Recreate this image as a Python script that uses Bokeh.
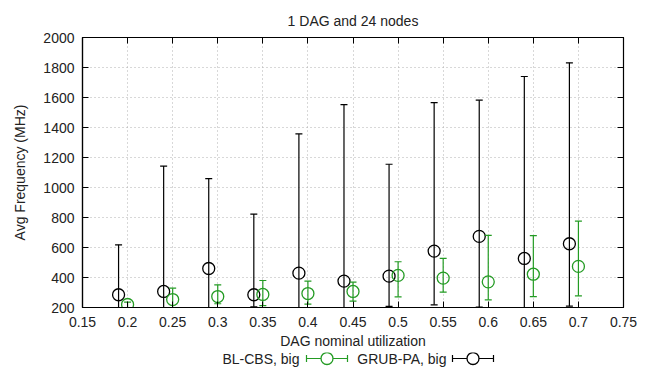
import math
from bokeh.plotting import figure
from bokeh.layouts import column
from bokeh.models import ColumnDataSource, FixedTicker, LinearAxis, Range1d, Title
from bokeh.core.properties import value
from bokeh.embed import file_html
from bokeh.resources import INLINE

# ---- data ----
bl_x = [0.20, 0.25, 0.30, 0.35, 0.40, 0.45, 0.50, 0.55, 0.60, 0.65, 0.70]
bl_y = [220, 253, 273, 287, 293, 307, 414, 396, 371, 422, 474]
bl_lo = [200, 200, 225, 213, 222, 242, 271, 302, 251, 273, 278]
bl_hi = [236, 329, 351, 380, 376, 369, 505, 527, 681, 679, 776]

gr_x = [0.19, 0.24, 0.29, 0.34, 0.39, 0.44, 0.49, 0.54, 0.59, 0.64, 0.69]
gr_y = [285, 307, 460, 285, 429, 376, 409, 576, 674, 527, 625]
gr_lo = [200, 200, 200, 205, 200, 200, 207, 218, 202, 200, 209]
gr_hi = [618, 1143, 1059, 823, 1357, 1553, 1155, 1566, 1582, 1740, 1831]

x_ticks = [0.15, 0.2, 0.25, 0.3, 0.35, 0.4, 0.45, 0.5, 0.55, 0.6, 0.65, 0.7, 0.75]
x_tick_labels = ["0.15", "0.2", "0.25", "0.3", "0.35", "0.4", "0.45", "0.5",
                 "0.55", "0.6", "0.65", "0.7", "0.75"]
y_ticks = [200, 400, 600, 800, 1000, 1200, 1400, 1600, 1800, 2000]

title_text = "1 DAG and 24 nodes"
x_label = "DAG nominal utilization"
y_label = "Avg Frequency (MHz)"
names = ["BL-CBS, big", "GRUB-PA, big"]

FONT = "Liberation Sans"
GREEN = "#239b23"
BLACK = "#000000"
TXT = "#222222"

W = 652
MAIN_H = 352
LEG_H = 374 - MAIN_H
FL, FR, FT, FB = 82, 623, 37, 307   # plot frame in page pixels

p = figure(width=W, height=MAIN_H, output_backend="svg", toolbar_location=None,
           x_range=Range1d(0.15, 0.75), y_range=Range1d(200, 2000),
           min_border_left=FL, min_border_right=W - FR, min_border_top=FT,
           min_border_bottom=MAIN_H - FB)
p.background_fill_color = "white"
p.border_fill_color = "white"
p.outline_line_color = "black"
p.outline_line_width = 1.2

p.title = Title(text=title_text, align="center", text_font=FONT,
                text_font_size="14px", text_font_style="normal", text_color=TXT,
                standoff=18)

for ax in (p.xaxis[0], p.yaxis[0]):
    ax.major_tick_in = 6
    ax.major_tick_out = 0
    ax.minor_tick_in = 0
    ax.minor_tick_out = 0
    ax.axis_line_color = "black"
    ax.axis_line_width = 1.2
    ax.major_label_text_font = FONT
    ax.major_label_text_font_size = "14px"
    ax.major_label_text_color = TXT
    ax.axis_label_text_font = FONT
    ax.axis_label_text_font_size = "14px"
    ax.axis_label_text_font_style = "normal"
    ax.axis_label_text_color = TXT

p.xaxis[0].ticker = FixedTicker(ticks=x_ticks)
p.xaxis[0].major_label_overrides = {t: l for t, l in zip(x_ticks, x_tick_labels)}
p.xaxis[0].major_label_standoff = 9
p.xaxis[0].axis_label = x_label
p.xaxis[0].axis_label_standoff = 3
p.yaxis[0].ticker = FixedTicker(ticks=y_ticks)
p.yaxis[0].major_label_standoff = 8
p.yaxis[0].axis_label = y_label
p.yaxis[0].axis_label_standoff = 12

# mirror axes
for loc, ticks in (("above", x_ticks), ("right", y_ticks)):
    ax = LinearAxis(ticker=FixedTicker(ticks=ticks), major_label_text_font_size="0px",
                    major_tick_in=6, major_tick_out=0, minor_tick_in=0, minor_tick_out=0,
                    axis_line_color="black", major_label_standoff=0)
    p.add_layout(ax, loc)

p.xgrid.ticker = FixedTicker(ticks=x_ticks)
p.ygrid.ticker = FixedTicker(ticks=y_ticks)
for g in (p.xgrid[0], p.ygrid[0]):
    g.grid_line_color = "#b0b0b0"
    g.grid_line_dash = "1 3"
    g.grid_line_width = 1

bl_src = ColumnDataSource(dict(x=bl_x, y=bl_y, lo=bl_lo, hi=bl_hi))
gr_src = ColumnDataSource(dict(x=gr_x, y=gr_y, lo=gr_lo, hi=gr_hi))

for src, col in ((gr_src, BLACK), (bl_src, GREEN)):
    p.segment(x0="x", y0="lo", x1="x", y1="hi", source=src, line_color=col, line_width=1.2)
    p.scatter(x="x", y="lo", source=src, marker="dash", size=7, line_color=col, line_width=1.2)
    p.scatter(x="x", y="hi", source=src, marker="dash", size=7, line_color=col, line_width=1.2)
    p.scatter(x="x", y="y", source=src, marker="circle", size=12, fill_color=None,
              line_color=col, line_width=1.3)

# ---- key (gnuplot style: text, then sample) in a strip below the plot ----
# strip coordinates are page pixels (x) and page pixels (y, downwards)
lg = figure(width=W, height=LEG_H, output_backend="svg", toolbar_location=None,
            x_range=Range1d(FL, FR), y_range=Range1d(374, MAIN_H),
            min_border_left=FL, min_border_right=W - FR, min_border_top=0, min_border_bottom=0)
lg.axis.visible = False
lg.grid.visible = False
lg.outline_line_color = None
lg.background_fill_color = "white"
lg.border_fill_color = "white"

key_y = 358
key_text_right = [299, 446]
key_sample_left = [306, 452]
key_sample_w = 41
for name, tr, sl, col in zip(names, key_text_right, key_sample_left, (GREEN, BLACK)):
    lg.text(x=[tr], y=[key_y], text=[name], text_align="right", text_baseline="middle",
            text_font=value(FONT), text_font_size="14px", text_color=TXT)
    sr = sl + key_sample_w
    lg.segment(x0=[sl], y0=[key_y], x1=[sr], y1=[key_y], line_color=col, line_width=1.2)
    lg.scatter(x=[sl, sr], y=[key_y, key_y], marker="dash", angle=math.pi / 2, size=7,
               line_color=col, line_width=1.2)
    lg.scatter(x=[(sl + sr) / 2], y=[key_y], marker="circle", size=12, fill_color="white",
               line_color=col, line_width=1.3)

layout = column(p, lg, spacing=0)
open("out.html", "w").write(file_html(layout, INLINE))
